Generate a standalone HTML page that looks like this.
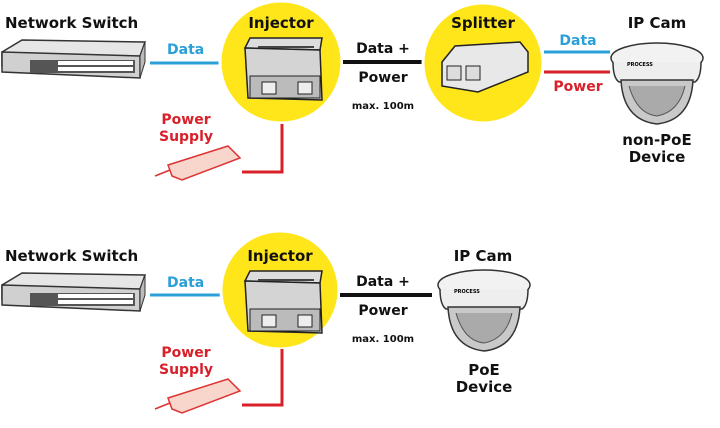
<!DOCTYPE html>
<html><head><meta charset="utf-8"><style>
html,body{margin:0;padding:0;background:#fff;}
svg{display:block}
text{font-family:"DejaVu Sans","Liberation Sans",sans-serif;font-weight:bold;}
</style></head><body>
<svg width="720" height="428" viewBox="0 0 720 428" xmlns="http://www.w3.org/2000/svg">
<defs>
<g id="switch">
  <polygon points="2,52 22,40 145,42 140,56 2,66" fill="#e6e6e6" stroke="#333" stroke-width="1.5"/>
  <polygon points="2,52 140,56 140,78 2,72" fill="#d0d0d0" stroke="#333" stroke-width="1.5"/>
  <polygon points="140,56 145,42 145,62 140,78" fill="#bbb" stroke="#333" stroke-width="1"/>
  <rect x="30" y="60" width="105" height="13" fill="#555"/>
  <g fill="#fff"><rect x="58" y="61" width="75" height="4"/><rect x="58" y="67" width="75" height="4"/></g>
</g>
<g id="injector">
  <polygon points="245,48 250,38 322,38 320,50" fill="#ddd" stroke="#222" stroke-width="1.5"/>
  <polygon points="245,48 320,50 322,100 248,98" fill="#d4d4d4" stroke="#222" stroke-width="1.5"/>
  <rect x="250" y="76" width="70" height="22" fill="#bbb" stroke="#222"/>
  <rect x="262" y="82" width="14" height="12" fill="#eee" stroke="#222"/>
  <rect x="298" y="82" width="14" height="12" fill="#eee" stroke="#222"/>
  <rect x="258" y="46" width="56" height="2" fill="#444"/>
</g>
<g id="psu">
  <polygon points="168,165 228,146 240,158 182,180 172,176" fill="#f8d6cc" stroke="#d33" stroke-width="1.5"/>
  <line x1="155" y1="176" x2="170" y2="170" stroke="#d33" stroke-width="1.5"/>
</g>
<g id="cam">
  <ellipse cx="0" cy="0" rx="46" ry="15" fill="#f2f2f2" stroke="#333" stroke-width="1.5"/>
  <path d="M-44,4 Q-44,20 -38,24 L38,24 Q44,20 44,4" fill="#eee" stroke="#333" stroke-width="1.5"/>
  <path d="M-36,22 Q-34,62 0,66 Q34,62 36,22 Z" fill="#c9c9c9" stroke="#333" stroke-width="1.5"/>
  <path d="M-28,28 Q-20,56 0,58 Q22,54 28,28" fill="#aaa" stroke="#555"/>
  <text x="-30" y="8" font-size="5" fill="#000">PROCESS</text>
</g>
</defs>

<!-- TOP -->
<text x="5" y="28" font-size="15" fill="#111">Network Switch</text>
<use href="#switch" y="0"/>
<line x1="150" y1="63" x2="220" y2="63" stroke="#2a9fd8" stroke-width="3"/>
<text x="167" y="54" font-size="14" fill="#2a9fd8">Data</text>
<circle cx="281" cy="62" r="61" fill="#ffe61a" stroke="#fff" stroke-width="3"/>
<text x="281" y="28" font-size="15" fill="#111" text-anchor="middle">Injector</text>
<use href="#injector"/>
<line x1="343" y1="62" x2="423" y2="62" stroke="#111" stroke-width="4"/>
<text x="383" y="53" font-size="14" fill="#111" text-anchor="middle">Data +</text>
<text x="383" y="82" font-size="14" fill="#111" text-anchor="middle">Power</text>
<text x="383" y="109" font-size="10" fill="#111" text-anchor="middle">max. 100m</text>
<circle cx="483" cy="63" r="60" fill="#ffe61a" stroke="#fff" stroke-width="3"/>
<text x="483" y="28" font-size="15" fill="#111" text-anchor="middle">Splitter</text>
<polygon points="442,62 455,46 520,42 528,52 528,72 478,92 442,86" fill="#e8e8e8" stroke="#222" stroke-width="1.5"/>
<rect x="447" y="66" width="14" height="14" fill="#ddd" stroke="#222"/>
<rect x="466" y="66" width="14" height="14" fill="#ddd" stroke="#222"/>
<line x1="544" y1="52" x2="610" y2="52" stroke="#2a9fd8" stroke-width="3"/>
<line x1="544" y1="72" x2="610" y2="72" stroke="#d8202a" stroke-width="3"/>
<text x="578" y="45" font-size="14" fill="#2a9fd8" text-anchor="middle">Data</text>
<text x="578" y="91" font-size="14" fill="#d8202a" text-anchor="middle">Power</text>
<text x="657" y="28" font-size="15" fill="#111" text-anchor="middle">IP Cam</text>
<use href="#cam" x="657" y="58"/>
<text x="657" y="145" font-size="15" fill="#111" text-anchor="middle">non-PoE</text>
<text x="657" y="162" font-size="15" fill="#111" text-anchor="middle">Device</text>
<text x="186" y="124" font-size="14" fill="#d8202a" text-anchor="middle">Power</text>
<text x="186" y="141" font-size="14" fill="#d8202a" text-anchor="middle">Supply</text>
<use href="#psu"/>
<polyline points="282,124 282,172 242,172" fill="none" stroke="#d8202a" stroke-width="3"/>

<!-- BOTTOM -->
<g transform="translate(0,233)">
<text x="5" y="28" font-size="15" fill="#111">Network Switch</text>
<use href="#switch"/>
<line x1="150" y1="62" x2="220" y2="62" stroke="#2a9fd8" stroke-width="3"/>
<text x="167" y="54" font-size="14" fill="#2a9fd8">Data</text>
<circle cx="280" cy="57" r="59" fill="#ffe61a" stroke="#fff" stroke-width="3"/>
<text x="280" y="28" font-size="15" fill="#111" text-anchor="middle">Injector</text>
<use href="#injector"/>
<line x1="340" y1="62" x2="432" y2="62" stroke="#111" stroke-width="4"/>
<text x="383" y="53" font-size="14" fill="#111" text-anchor="middle">Data +</text>
<text x="383" y="82" font-size="14" fill="#111" text-anchor="middle">Power</text>
<text x="383" y="109" font-size="10" fill="#111" text-anchor="middle">max. 100m</text>
<text x="483" y="28" font-size="15" fill="#111" text-anchor="middle">IP Cam</text>
<use href="#cam" x="484" y="52"/>
<text x="484" y="142" font-size="15" fill="#111" text-anchor="middle">PoE</text>
<text x="484" y="159" font-size="15" fill="#111" text-anchor="middle">Device</text>
<text x="186" y="124" font-size="14" fill="#d8202a" text-anchor="middle">Power</text>
<text x="186" y="141" font-size="14" fill="#d8202a" text-anchor="middle">Supply</text>
<use href="#psu"/>
<polyline points="282,116 282,172 242,172" fill="none" stroke="#d8202a" stroke-width="3"/>
</g>
</svg>
</body></html>
